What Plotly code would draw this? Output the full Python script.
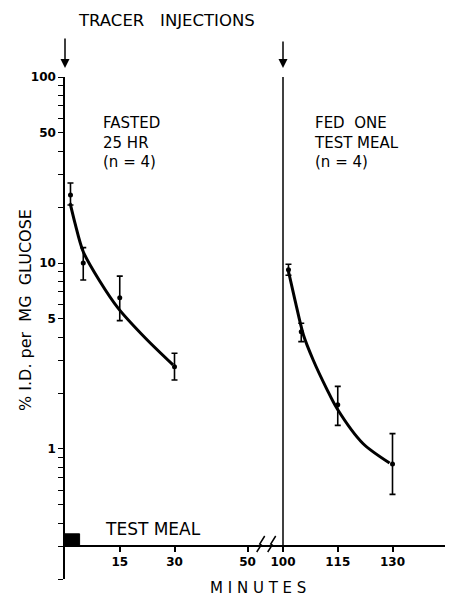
import numpy as np
import plotly.graph_objects as go

# ---------------- data ----------------
fasted_t = [1.5, 5, 15, 30]
fasted_v = [23.2, 10.0, 6.5, 2.77]
fasted_err_plus = [3.7, 2.1, 2.0, 0.5]
fasted_err_minus = [2.7, 1.9, 1.6, 0.42]

fed_t = [101.5, 105, 115, 130]
fed_v = [9.2, 4.27, 1.73, 0.83]
fed_err_plus = [0.65, 0.47, 0.44, 0.38]
fed_err_minus = [0.6, 0.49, 0.39, 0.26]

fasted_fit_t = [1.4, 2.7, 5, 9.5, 14.6, 22, 29.6]
fasted_fit_v = [21, 16.5, 11.5, 8.0, 5.7, 3.95, 2.83]
fed_fit_t = [101.4, 103.3, 105.6, 108.3, 112, 114.8, 121.9, 129.2]
fed_fit_v = [9.2, 6.3, 4.1, 3.0, 2.1, 1.65, 1.07, 0.84]

meal_t = [0, 4]
meal_level = [0.3, 0.35]

left_ticks = [15, 30, 50]
right_ticks = [100, 115, 130]
y_ticks = [1, 5, 10, 50, 100]
y_ticklabels = ["1", "5", "10", "50", "100"]
y_minor = [0.2, 0.3, 0.4, 0.5, 0.6, 0.7, 0.8, 0.9, 2, 3, 4, 6, 7, 8, 9,
           20, 30, 40, 60, 70, 80, 90]

# ---------------- layout geometry ----------------
OFF = 8                      # page body margin of the html page
W, H = 453 - OFF, 597 - OFF
ML, MR, MT, MB = 65 - OFF, 0, 77 - OFF, 18
PW, PH = W - ML - MR, H - MT - MB
PXM = 3.65  # pixels per minute
BREAK_PX = 266


def px2paper_x(px):
    return (px - OFF - ML) / PW


def px2paper_y(py):
    return (H - MB - (py - OFF)) / PH


y_lo, y_hi = np.log10(0.2), 2.0
x_axis_pos = (np.log10(0.3) - y_lo) / (y_hi - y_lo)
d_break = px2paper_x(BREAK_PX)

FONT = "DejaVu Sans"
BLACK = "black"

fig = go.Figure()

# test meal block
fig.add_trace(go.Scatter(
    x=[meal_t[0], meal_t[1], meal_t[1], meal_t[0], meal_t[0]],
    y=[meal_level[0], meal_level[0], meal_level[1], meal_level[1], meal_level[0]],
    fill="toself", fillcolor=BLACK, mode="lines", line=dict(color=BLACK, width=1),
    xaxis="x", yaxis="y", hoverinfo="skip", showlegend=False))

# fitted curves
fig.add_trace(go.Scatter(x=fasted_fit_t, y=fasted_fit_v, mode="lines",
                         line=dict(color=BLACK, width=3, shape="spline", smoothing=0.8),
                         xaxis="x", yaxis="y", showlegend=False))
fig.add_trace(go.Scatter(x=fed_fit_t, y=fed_fit_v, mode="lines",
                         line=dict(color=BLACK, width=3, shape="spline", smoothing=0.8),
                         xaxis="x2", yaxis="y", showlegend=False))

# points with error bars
fig.add_trace(go.Scatter(x=fasted_t, y=fasted_v, mode="markers",
                         marker=dict(color=BLACK, size=5),
                         error_y=dict(type="data", array=fasted_err_plus,
                                      arrayminus=fasted_err_minus, symmetric=False,
                                      color=BLACK, thickness=1.6, width=3),
                         xaxis="x", yaxis="y", showlegend=False))
fig.add_trace(go.Scatter(x=fed_t, y=fed_v, mode="markers",
                         marker=dict(color=BLACK, size=5),
                         error_y=dict(type="data", array=fed_err_plus,
                                      arrayminus=fed_err_minus, symmetric=False,
                                      color=BLACK, thickness=1.6, width=3),
                         xaxis="x2", yaxis="y", showlegend=False))

tickfont = dict(family=FONT, size=12, color=BLACK, weight="bold")
axis_common = dict(showgrid=False, zeroline=False, showline=True, linecolor=BLACK,
                   linewidth=1.5, ticks="outside", ticklen=5, tickwidth=1.5,
                   tickcolor=BLACK, tickfont=tickfont,
                   anchor="free", position=x_axis_pos, automargin=False)

fig.update_layout(
    width=W, height=H,
    margin=dict(l=ML, r=MR, t=MT, b=MB, autoexpand=False),
    paper_bgcolor="white", plot_bgcolor="white",
    showlegend=False,
    xaxis=dict(domain=[0, d_break], range=[0, (BREAK_PX - 65) / PXM],
               tickmode="array", tickvals=left_ticks, **axis_common),
    xaxis2=dict(domain=[d_break, 1],
                range=[100 - (283 - BREAK_PX) / PXM, 100 + (453 - 283) / PXM],
                tickmode="array", tickvals=right_ticks, **axis_common),
    yaxis=dict(type="log", range=[y_lo, y_hi], anchor="x", automargin=False,
               showgrid=False, zeroline=False, showline=True, linecolor=BLACK,
               linewidth=1.5, ticks="outside", ticklen=5, tickwidth=1.2,
               tickcolor=BLACK, tickmode="array", tickvals=y_ticks,
               ticktext=y_ticklabels, tickfont=tickfont,
               minor=dict(tickmode="array", tickvals=y_minor, ticks="outside",
                          ticklen=5, tickwidth=1.2, tickcolor=BLACK,
                          showgrid=False)),
)

# vertical line at second injection
fig.add_shape(type="line", xref="x2", yref="paper", x0=100, x1=100,
              y0=x_axis_pos, y1=1, line=dict(color=BLACK, width=1.5))

# axis break marks
for bx in (260.7, 271.7):
    pts = [(bx - 4, 552), (bx + 0.5, 545), (bx - 1, 544), (bx + 4, 536)]
    path = "M " + " L ".join(f"{px2paper_x(a):.5f},{px2paper_y(b):.5f}" for a, b in pts)
    fig.add_shape(type="path", xref="paper", yref="paper", path=path,
                  line=dict(color=BLACK, width=1.5))

# arrows
fig.add_annotation(x=0, y=px2paper_y(68), xref="x", yref="paper", text="",
                   showarrow=True, ax=0, ay=-31, arrowhead=2, arrowsize=1.2,
                   arrowwidth=1.5, arrowcolor=BLACK, standoff=0)
fig.add_annotation(x=100, y=px2paper_y(68), xref="x2", yref="paper", text="",
                   showarrow=True, ax=0, ay=-28, arrowhead=2, arrowsize=1.2,
                   arrowwidth=1.5, arrowcolor=BLACK, standoff=0)

txtfont = dict(family=FONT, size=15, color=BLACK)
fig.add_annotation(x=px2paper_x(166.5), y=px2paper_y(20), xref="paper", yref="paper",
                   text="TRACER\u00a0\u00a0 INJECTIONS", showarrow=False,
                   xanchor="center", yanchor="middle",
                   font=dict(family=FONT, size=16.5, color=BLACK))
fig.add_annotation(x=px2paper_x(101), y=px2paper_y(112), xref="paper", yref="paper",
                   text="FASTED<br>25 HR<br>(n = 4)", showarrow=False, align="left",
                   xanchor="left", yanchor="top", font=txtfont)
fig.add_annotation(x=px2paper_x(312), y=px2paper_y(112), xref="paper", yref="paper",
                   text="FED\u00a0 ONE<br>TEST MEAL<br>(n = 4)", showarrow=False,
                   align="left", xanchor="left", yanchor="top", font=txtfont)
fig.add_annotation(x=px2paper_x(103), y=px2paper_y(529), xref="paper", yref="paper",
                   text="TEST MEAL", showarrow=False, xanchor="left",
                   yanchor="middle", font=dict(family=FONT, size=17, color=BLACK))
fig.add_annotation(x=px2paper_x(257.5), y=px2paper_y(588), xref="paper", yref="paper",
                   text="M I N U T E S", showarrow=False,
                   xanchor="center", yanchor="middle",
                   font=dict(family=FONT, size=15, color=BLACK))
fig.add_annotation(x=px2paper_x(25), y=px2paper_y(310), xref="paper", yref="paper",
                   text="% I.D. per\u00a0 MG\u00a0 GLUCOSE", showarrow=False,
                   textangle=-90, xanchor="center", yanchor="middle",
                   font=dict(family=FONT, size=16, color=BLACK))

fig.write_html("out.html")
